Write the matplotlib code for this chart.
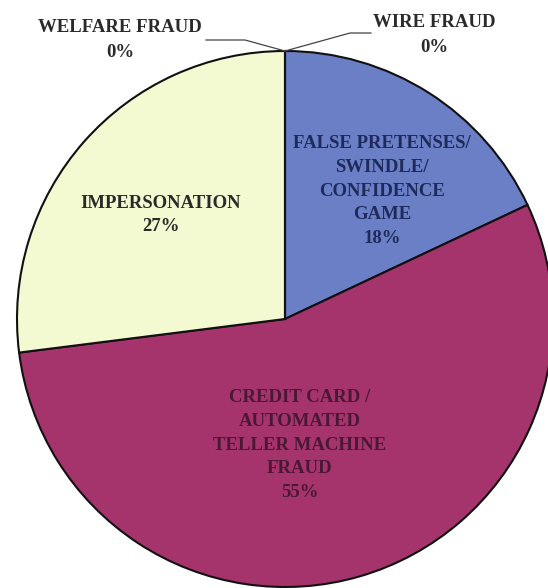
import matplotlib.pyplot as plt

# slices, clockwise from 12 o'clock
categories = ["WIRE FRAUD", "FALSE PRETENSES/\nSWINDLE/\nCONFIDENCE\nGAME",
              "CREDIT CARD /\nAUTOMATED\nTELLER MACHINE\nFRAUD", "IMPERSONATION",
              "WELFARE FRAUD"]
shares = [0, 18, 55, 27, 0]
colors = ["#6b7fc7", "#6b7fc7", "#a5336c", "#f3f9d0", "#f3f9d0"]
text_colors = ["#2a2a2a", "#1e2a5a", "#4a1835", "#2a2a2a", "#2a2a2a"]

# label centres in pixel space (x, y from bottom) and line spacing
label_pos = [(434, 553), (382, 397), (300, 143), (161, 373), (120, 548)]
spacing = [1.6, 1.52, 1.52, 1.49, 1.6]

W, H = 548, 588
CX, CY, R = 285, 269, 268

plt.rcParams["font.family"] = ["Liberation Serif", "DejaVu Serif"]

fig = plt.figure(figsize=(W / 100, H / 100), dpi=100)
ax = fig.add_axes([0, 0, 1, 1])

ax.pie(shares, colors=colors, startangle=90, counterclock=False,
       center=(CX, CY), radius=R, frame=True,
       wedgeprops=dict(edgecolor="#111111", linewidth=1.5))
ax.set_xlim(0, W)
ax.set_ylim(0, H)
ax.axis("off")

for name, val, (x, y), tc, ls in zip(categories, shares, label_pos, text_colors, spacing):
    ax.text(x, y, f"{name}\n{val}%", ha="center", va="center", color=tc,
            fontsize=13.5, fontweight="bold", linespacing=ls)

# leader lines for the zero slices, from the top of the pie
top_x, top_y = CX, CY + R
ax.plot([top_x, 350, 371], [top_y, 555, 555], color="#444444", lw=0.9)
ax.plot([top_x, 245, 206], [top_y, 548, 548], color="#444444", lw=0.9)

fig.savefig("out.png", dpi=100)
